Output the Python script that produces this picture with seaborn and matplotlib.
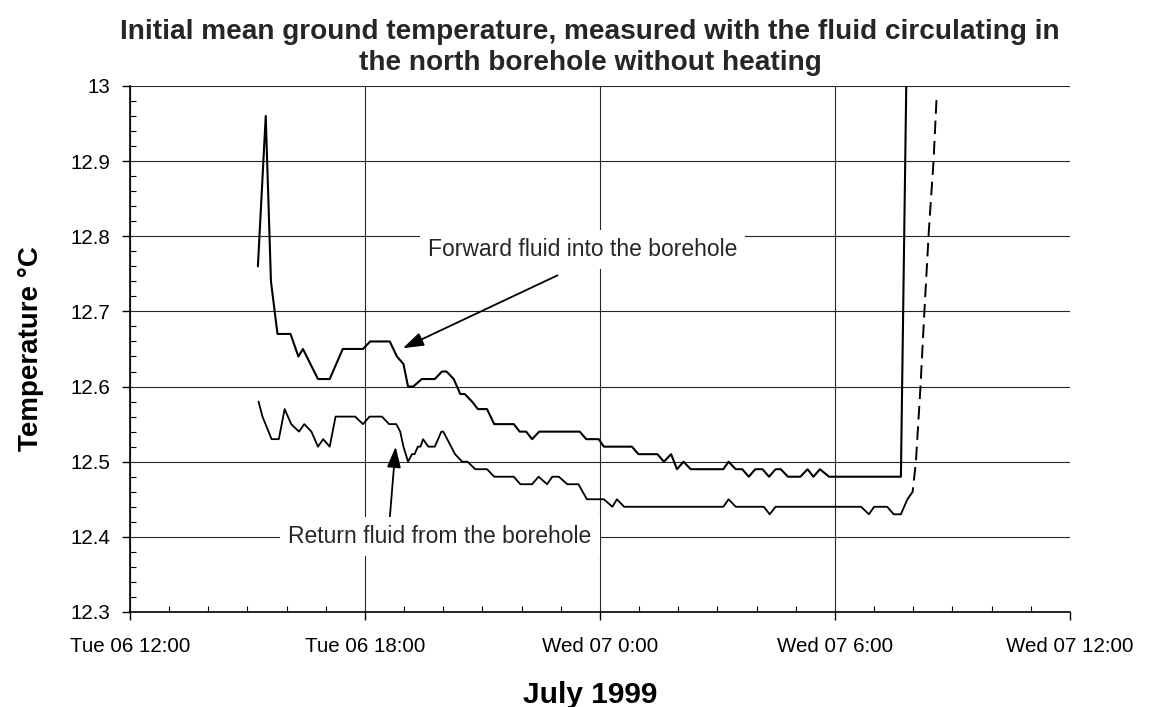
import matplotlib
matplotlib.use('Agg')
import pandas as pd
import seaborn as sns
import matplotlib.pyplot as plt
import matplotlib.dates as mdates
from matplotlib.ticker import MultipleLocator, FuncFormatter

# Forward fluid into the borehole (time, deg C)
forward_time = [
    '1999-07-06 15:16', '1999-07-06 15:28', '1999-07-06 15:36', '1999-07-06 15:46',
    '1999-07-06 16:06', '1999-07-06 16:18', '1999-07-06 16:25', '1999-07-06 16:48',
    '1999-07-06 17:06', '1999-07-06 17:26', '1999-07-06 17:57', '1999-07-06 18:08',
    '1999-07-06 18:38', '1999-07-06 18:49', '1999-07-06 18:59', '1999-07-06 19:06',
    '1999-07-06 19:14', '1999-07-06 19:27', '1999-07-06 19:47', '1999-07-06 19:58',
    '1999-07-06 20:05', '1999-07-06 20:16', '1999-07-06 20:26', '1999-07-06 20:33',
    '1999-07-06 20:44', '1999-07-06 20:53', '1999-07-06 21:07', '1999-07-06 21:18',
    '1999-07-06 21:48', '1999-07-06 21:57', '1999-07-06 22:07', '1999-07-06 22:16',
    '1999-07-06 22:27', '1999-07-06 23:29', '1999-07-06 23:39', '1999-07-06 23:58',
    '1999-07-07 00:06', '1999-07-07 00:49', '1999-07-07 00:59', '1999-07-07 01:28',
    '1999-07-07 01:38', '1999-07-07 01:49', '1999-07-07 01:58', '1999-07-07 02:08',
    '1999-07-07 02:19', '1999-07-07 03:09', '1999-07-07 03:17', '1999-07-07 03:28',
    '1999-07-07 03:38', '1999-07-07 03:48', '1999-07-07 03:58', '1999-07-07 04:09',
    '1999-07-07 04:19', '1999-07-07 04:29', '1999-07-07 04:37', '1999-07-07 04:48',
    '1999-07-07 05:07', '1999-07-07 05:18', '1999-07-07 05:27', '1999-07-07 05:37',
    '1999-07-07 05:51', '1999-07-07 07:41', '1999-07-07 07:50',
]
forward_temp = [
    12.76, 12.96, 12.74, 12.67,
    12.67, 12.64, 12.65, 12.61,
    12.61, 12.65, 12.65, 12.66,
    12.66, 12.64, 12.63, 12.60,
    12.60, 12.61, 12.61, 12.62,
    12.62, 12.61, 12.59, 12.59,
    12.58, 12.57, 12.57, 12.55,
    12.55, 12.54, 12.54, 12.53,
    12.54, 12.54, 12.53, 12.53,
    12.52, 12.52, 12.51, 12.51,
    12.50, 12.51, 12.49, 12.50,
    12.49, 12.49, 12.50, 12.49,
    12.49, 12.48, 12.49, 12.49,
    12.48, 12.49, 12.49, 12.48,
    12.48, 12.49, 12.48, 12.49,
    12.48, 12.48, 13.05,
]

# Return fluid from the borehole (time, deg C)
return_time = [
    '1999-07-06 15:17', '1999-07-06 15:23', '1999-07-06 15:37', '1999-07-06 15:48',
    '1999-07-06 15:57', '1999-07-06 16:07', '1999-07-06 16:19', '1999-07-06 16:27',
    '1999-07-06 16:38', '1999-07-06 16:48', '1999-07-06 16:56', '1999-07-06 17:06',
    '1999-07-06 17:15', '1999-07-06 17:45', '1999-07-06 17:57', '1999-07-06 18:07',
    '1999-07-06 18:26', '1999-07-06 18:37', '1999-07-06 18:48', '1999-07-06 18:54',
    '1999-07-06 18:59', '1999-07-06 19:06', '1999-07-06 19:12', '1999-07-06 19:16',
    '1999-07-06 19:21', '1999-07-06 19:25', '1999-07-06 19:29', '1999-07-06 19:37',
    '1999-07-06 19:47', '1999-07-06 19:57', '1999-07-06 20:00', '1999-07-06 20:18',
    '1999-07-06 20:29', '1999-07-06 20:37', '1999-07-06 20:49', '1999-07-06 21:07',
    '1999-07-06 21:18', '1999-07-06 21:48', '1999-07-06 21:58', '1999-07-06 22:16',
    '1999-07-06 22:26', '1999-07-06 22:39', '1999-07-06 22:47', '1999-07-06 22:57',
    '1999-07-06 23:10', '1999-07-06 23:27', '1999-07-06 23:40', '1999-07-07 00:06',
    '1999-07-07 00:19', '1999-07-07 00:26', '1999-07-07 00:37', '1999-07-07 03:09',
    '1999-07-07 03:17', '1999-07-07 03:28', '1999-07-07 04:11', '1999-07-07 04:20',
    '1999-07-07 04:29', '1999-07-07 06:40', '1999-07-07 06:52', '1999-07-07 07:00',
    '1999-07-07 07:20', '1999-07-07 07:30', '1999-07-07 07:41', '1999-07-07 07:51',
    '1999-07-07 07:59', '1999-07-07 08:04', '1999-07-07 08:11', '1999-07-07 08:17',
    '1999-07-07 08:24', '1999-07-07 08:31', '1999-07-07 08:36',
]
return_temp = [
    12.58, 12.56, 12.53, 12.53,
    12.57, 12.55, 12.54, 12.55,
    12.54, 12.52, 12.53, 12.52,
    12.56, 12.56, 12.55, 12.56,
    12.56, 12.55, 12.55, 12.54,
    12.52, 12.50, 12.51, 12.51,
    12.52, 12.52, 12.53, 12.52,
    12.52, 12.54, 12.54, 12.51,
    12.50, 12.50, 12.49, 12.49,
    12.48, 12.48, 12.47, 12.47,
    12.48, 12.47, 12.48, 12.48,
    12.47, 12.47, 12.45, 12.45,
    12.44, 12.45, 12.44, 12.44,
    12.45, 12.44, 12.44, 12.43,
    12.44, 12.44, 12.43, 12.44,
    12.44, 12.43, 12.43, 12.45,
    12.46, 12.50, 12.60, 12.70,
    12.81, 12.90, 12.99,
]
dash_from = '1999-07-07 07:51'  # return curve drawn dashed from here on

fwd = pd.DataFrame({'time': pd.to_datetime(forward_time), 'temp': forward_temp})
ret = pd.DataFrame({'time': pd.to_datetime(return_time), 'temp': return_temp})
k = ret.index[ret['time'] == pd.Timestamp(dash_from)][0]

sns.set_theme(style='ticks')
plt.rcParams['font.family'] = ['Liberation Sans', 'DejaVu Sans']

fig = plt.figure(figsize=(11.51, 7.07), dpi=100)
ax = fig.add_axes([0.1129, 0.1344, 0.8167, 0.744])

sns.lineplot(data=fwd, x='time', y='temp', color='black', lw=1.5, ax=ax,
             estimator=None, sort=False)
sns.lineplot(data=ret.iloc[:k + 1], x='time', y='temp', color='black', lw=1.3,
             ax=ax, estimator=None, sort=False)
sns.lineplot(data=ret.iloc[k:], x='time', y='temp', color='black', lw=1.4,
             ax=ax, estimator=None, sort=False)
ax.lines[-1].set_dashes([7, 3.5])

ax.set_xlim(pd.Timestamp('1999-07-06 12:00'), pd.Timestamp('1999-07-07 12:00'))
ax.set_ylim(12.3, 13.0)
ax.xaxis.set_major_locator(mdates.HourLocator(byhour=[0, 6, 12, 18]))
ax.xaxis.set_minor_locator(mdates.HourLocator(interval=1))
ax.xaxis.set_major_formatter(FuncFormatter(
    lambda v, pos: '{:%a %d} {}:{:%M}'.format(mdates.num2date(v), mdates.num2date(v).hour, mdates.num2date(v))))
ax.yaxis.set_major_locator(MultipleLocator(0.1))
ax.yaxis.set_minor_locator(MultipleLocator(0.02))
ax.yaxis.set_major_formatter(FuncFormatter(lambda v, pos: '%g' % round(v, 2)))

ax.grid(which='major', axis='both', color='0.15', lw=0.8)
ax.get_xgridlines()[-1].set_visible(False)
for s in ['top', 'right']:
    ax.spines[s].set_visible(False)
for s in ['left', 'bottom']:
    ax.spines[s].set_color('black')
    ax.spines[s].set_linewidth(1.2)

ax.tick_params(which='major', direction='out', length=6, width=1, color='black',
               labelsize=14.8, labelcolor='black')
ax.tick_params(axis='x', which='major', pad=12)
ax.tick_params(axis='y', which='major', pad=8)
ax.tick_params(which='minor', direction='in', length=4, width=0.8, color='black')

ax.set_xlabel('July 1999', fontsize=21.5, fontweight='bold', color='black')
ax.set_ylabel('Temperature °C', fontsize=20, fontweight='bold', color='black')
ax.xaxis.set_label_coords(0.49, -0.157)
ax.xaxis.label.set_va('center')
ax.yaxis.set_label_coords(-0.105, 0.5)
ax.yaxis.label.set_va('center')

fig.text(0.5126, 0.933, 'Initial mean ground temperature, measured with the fluid circulating in\n'
         'the north borehole without heating', ha='center', va='center',
         fontsize=20.2, fontweight='bold', linespacing=1.25)

box = dict(boxstyle='square,pad=0.35', fc='white', ec='none')
arrow = dict(arrowstyle='-|>,head_length=0.9,head_width=0.3', color='black',
             lw=1.3, mutation_scale=14, shrinkA=0, shrinkB=0)
ax.annotate('', xy=(pd.Timestamp('1999-07-06 18:58'), 12.651),
            xytext=(pd.Timestamp('1999-07-06 22:55'), 12.748), arrowprops=arrow)
ax.text(pd.Timestamp('1999-07-06 23:33'), 12.782, 'Forward fluid into the borehole',
        ha='center', va='center', fontsize=16.5, bbox=box, zorder=5)
ax.annotate('', xy=(pd.Timestamp('1999-07-06 18:47'), 12.520),
            xytext=(pd.Timestamp('1999-07-06 18:38'), 12.425), arrowprops=arrow)
ax.text(pd.Timestamp('1999-07-06 19:55'), 12.401, 'Return fluid from the borehole',
        ha='center', va='center', fontsize=16.5, bbox=box, zorder=5)

fig.savefig('out.png', dpi=100)
